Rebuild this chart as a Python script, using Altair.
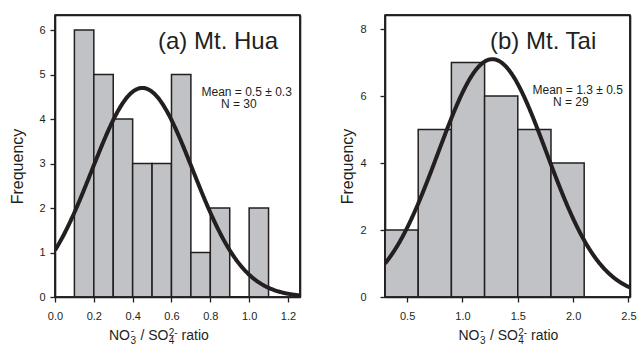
import altair as alt
import pandas as pd

# ---------------- data ----------------
hua_bin_start = [0.1, 0.2, 0.3, 0.4, 0.5, 0.6, 0.7, 0.8, 0.9, 1.0]
hua_bin_end = [0.2, 0.3, 0.4, 0.5, 0.6, 0.7, 0.8, 0.9, 1.0, 1.1]
hua_counts = [6, 5, 4, 3, 3, 5, 1, 2, 0, 2]
hua_fit = {"peak": 4.7, "mu": 0.45, "sigma": 0.26}

tai_bin_start = [0.3, 0.6, 0.9, 1.2, 1.5, 1.8]
tai_bin_end = [0.6, 0.9, 1.2, 1.5, 1.8, 2.1]
tai_counts = [2, 5, 7, 6, 5, 4]
tai_fit = {"peak": 7.1, "mu": 1.27, "sigma": 0.49}

hua_xticks = [0.0, 0.2, 0.4, 0.6, 0.8, 1.0, 1.2]
tai_xticks = [0.5, 1.0, 1.5, 2.0, 2.5]
hua_yticks = [0, 1, 2, 3, 4, 5, 6]
tai_yticks = [0, 2, 4, 6, 8]

hua_label = "(a) Mt. Hua"
tai_label = "(b) Mt. Tai"
hua_stats = ["Mean = 0.5 \u00b1 0.3", "N = 30"]
tai_stats = ["Mean = 1.3 \u00b1 0.5", "N = 29"]
y_title = "Frequency"

# ---------------- style ----------------
INK = "#231f20"
BAR = "#c1c2c6"
FONT = "Liberation Sans"
W, H = 245, 282


def text_layer(txt, x, y, size, align="left", baseline="alphabetic"):
    return alt.Chart(alt.Data(values=[{}])).mark_text(
        text=txt, font=FONT, fontSize=size, color=INK, align=align, baseline=baseline
    ).encode(x=alt.value(x), y=alt.value(y))


def xtitle_layers(x0, yb):
    # NO3- / SO4 2- ratio, built from pieces with sub/superscripts
    main, small = 14, 10
    return [
        text_layer("NO", x0, yb, main),
        text_layer("3", x0 + 21.5, yb + 4.5, small),
        text_layer("-", x0 + 21.8, yb - 5.5, small),
        text_layer("/", x0 + 31.4, yb, main),
        text_layer("SO", x0 + 39.2, yb, main),
        text_layer("4", x0 + 59.8, yb + 4.5, small),
        text_layer("2-", x0 + 59.8, yb - 4, small),
        text_layer("ratio", x0 + 72.6, yb, main),
    ]


def panel(starts, ends, counts, fit, xdom, ydom, xticks, yticks,
          label, stats, label_x, stats_x, n_x, stats_y, title_x0, ylab_pad):
    df = pd.DataFrame({"start": starts, "end": ends, "count": counts})
    xscale = alt.Scale(domain=xdom, nice=False, zero=False)
    yscale = alt.Scale(domain=ydom, nice=False)
    xaxis = alt.Axis(values=xticks, format=".1f", title=None, labelPadding=8)
    yaxis = alt.Axis(values=yticks, format="d", title=y_title,
                     labelPadding=ylab_pad, titleX=-33, titleY=151,
                     titleAngle=-90, titleAlign="center",
                     titleBaseline="alphabetic", titleFont=FONT,
                     titleFontSize=16, titleFontWeight="normal",
                     titleColor=INK)
    top_axis = alt.Axis(orient="top", labels=False, ticks=False, title=None)
    right_axis = alt.Axis(orient="right", labels=False, ticks=False, title=None)

    bars = alt.Chart(df).mark_bar(
        fill=BAR, stroke=INK, strokeWidth=1.5
    ).encode(
        x=alt.X("start:Q", scale=xscale, axis=xaxis),
        x2="end:Q",
        y=alt.Y("count:Q", scale=yscale, axis=yaxis),
        y2=alt.datum(0),
    )

    expr = (f"{fit['peak']} * exp(-pow(datum.x - {fit['mu']}, 2) / "
            f"(2 * {fit['sigma']} * {fit['sigma']}))")
    curve = alt.Chart(
        alt.sequence(start=xdom[0], stop=xdom[1] + 0.004, step=0.004, as_="x")
    ).transform_calculate(y=expr).mark_line(
        color=INK, strokeWidth=4, clip=True
    ).encode(
        x=alt.X("x:Q", scale=xscale, axis=None),
        y=alt.Y("y:Q", scale=yscale, axis=None),
    )

    # plot frame: top/right edges as axis domains, plus edge rules
    x0, x1 = xdom
    y0, y1 = ydom
    frame_df = pd.DataFrame({
        "xa": [x0, x0, x0, x1], "xb": [x1, x1, x0, x1],
        "ya": [y1, y0, y0, y0], "yb": [y1, y0, y1, y1],
    })
    frame = alt.Chart(frame_df).mark_rule(
        color=INK, strokeWidth=1.6
    ).encode(
        x=alt.X("xa:Q", scale=xscale, axis=top_axis),
        x2="xb:Q",
        y=alt.Y("ya:Q", scale=yscale, axis=right_axis),
        y2="yb:Q",
    )

    layers = [bars, curve, frame,
              text_layer(label, label_x, 33.5, 24),
              text_layer(stats[0], stats_x, stats_y, 12),
              text_layer(stats[1], n_x, stats_y + 12, 12)]
    layers += xtitle_layers(title_x0, 324.5)
    return alt.layer(*layers).resolve_axis(
        x="independent", y="independent"
    ).properties(width=W, height=H)


left = panel(hua_bin_start, hua_bin_end, hua_counts, hua_fit,
             [0, 1.262], [0, 6.34], hua_xticks, hua_yticks,
             hua_label, hua_stats, 103, 146.5, 166, 81, 54, 5)
right = panel(tai_bin_start, tai_bin_end, tai_counts, tai_fit,
              [0.3, 2.514], [0, 8.42], tai_xticks, tai_yticks,
              tai_label, tai_stats, 105, 147.5, 168, 79, 73.5, 14)

chart = alt.hconcat(left, right, spacing=85, bounds="flush").properties(
    padding={"left": 8, "top": 13, "right": 0, "bottom": 0},
    background="white",
).configure_view(
    stroke=INK, strokeWidth=1.5
).configure_axis(
    domain=True, domainColor=INK, domainWidth=1.6, grid=False,
    tickColor=INK, tickWidth=1.3, tickSize=5,
    labelFont=FONT, labelFontSize=11, labelColor=INK, labelFlush=False,
)

chart.save("out.html", embed_options={"renderer": "svg", "actions": False})
